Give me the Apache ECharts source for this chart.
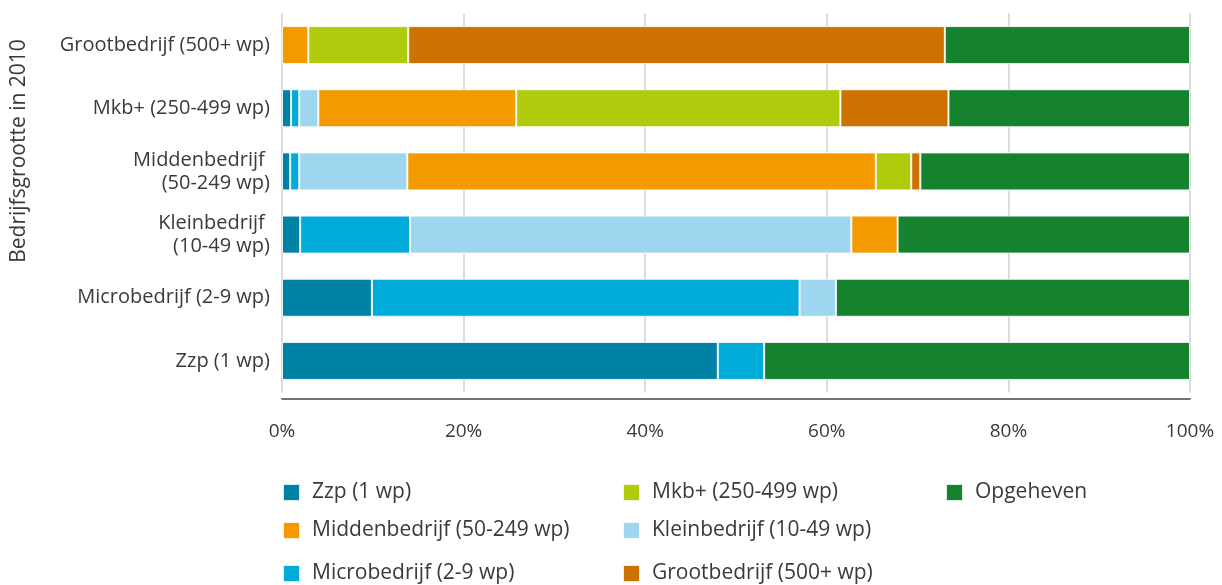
<!DOCTYPE html>
<html>
<head>
<meta charset="utf-8">
<script src="https://cdn.jsdelivr.net/npm/echarts@6/dist/echarts.min.js"></script>
<style>html,body{margin:0;padding:0;background:#fff;}#c{width:1222px;height:585px;}</style>
</head>
<body>
<div id="c"></div>
<script>
const categories = ['Grootbedrijf (500+ wp)', 'Mkb+ (250-499 wp)', 'Middenbedrijf \n(50-249 wp)', 'Kleinbedrijf \n(10-49 wp)', 'Microbedrijf (2-9 wp)', 'Zzp (1 wp)'];
const xTicks = [0, 20, 40, 60, 80, 100];
const zzp = [0, 1.0, 0.9, 2.0, 9.9, 48.0];
const micro = [0, 0.9, 1.0, 12.1, 47.1, 5.1];
const klein = [0, 2.1, 11.9, 48.6, 4.0, 0];
const midden = [2.9, 21.8, 51.6, 5.1, 0, 0];
const mkb = [11.0, 35.7, 3.9, 0, 0, 0];
const groot = [59.1, 11.9, 1.0, 0, 0, 0];
const opgeheven = [27.0, 26.6, 29.7, 32.2, 39.0, 46.9];

const seriesNames = ['Zzp (1 wp)', 'Microbedrijf (2-9 wp)', 'Kleinbedrijf (10-49 wp)', 'Middenbedrijf (50-249 wp)', 'Mkb+ (250-499 wp)', 'Grootbedrijf (500+ wp)', 'Opgeheven'];
const seriesData = [zzp, micro, klein, midden, mkb, groot, opgeheven];
const colors = ['#0081a6', '#00abd9', '#9ed6ef', '#f39a00', '#b0ca0c', '#cc7200', '#15822e'];

const FONT = '"Open Sans", "Noto Sans", sans-serif';
const TXT = '#3a3a3a';

// legend layout: [series index, left, row]
const legendSlots = [[0, 282, 0], [3, 282, 1], [1, 282, 2], [4, 622, 0], [2, 622, 1], [5, 622, 2], [6, 945, 0]];
const rowTops = [482, 520, 563];

const chart = echarts.init(document.getElementById('c'), null, {renderer: 'canvas'});
chart.setOption({
  animation: false,
  grid: {left: 282, right: 32, top: 13.5, bottom: 192.5},
  xAxis: {
    type: 'value', min: xTicks[0], max: xTicks[xTicks.length - 1], interval: 20, offset: 6.5,
    axisLine: {show: true, lineStyle: {color: '#444', width: 1.5}},
    axisTick: {show: false},
    splitLine: {show: true, lineStyle: {color: '#cfcfcf', width: 1.5}},
    axisLabel: {formatter: '{value}%', fontFamily: FONT, fontSize: 19, color: TXT, margin: 23}
  },
  yAxis: {
    type: 'category', data: categories, inverse: true,
    axisLine: {show: false}, axisTick: {show: false},
    axisLabel: {fontFamily: FONT, fontSize: 20, color: TXT, margin: 12, lineHeight: 23}
  },
  legend: legendSlots.map(s => ({
    orient: 'horizontal', left: s[1], top: rowTops[s[2]], itemWidth: 17, itemHeight: 17, icon: 'rect',
    padding: 0,
    textStyle: {fontFamily: FONT, fontSize: 21, color: TXT, padding: [0, 0, 0, 7]},
    data: [seriesNames[s[0]]]
  })),
  graphic: [{
    type: 'text', x: 19, y: 151, rotation: Math.PI / 2,
    style: {text: 'Bedrijfsgrootte in 2010', fontFamily: FONT, fontSize: 21, fill: TXT, align: 'center', verticalAlign: 'middle'}
  }],
  series: seriesNames.map((n, i) => ({
    name: n, type: 'bar', stack: 'total', barWidth: 38,
    itemStyle: {color: colors[i], borderColor: 'rgba(255,255,255,0.85)', borderWidth: 1},
    data: seriesData[i].map(v => v === 0 ? '-' : v)
  }))
});
</script>
</body>
</html>
